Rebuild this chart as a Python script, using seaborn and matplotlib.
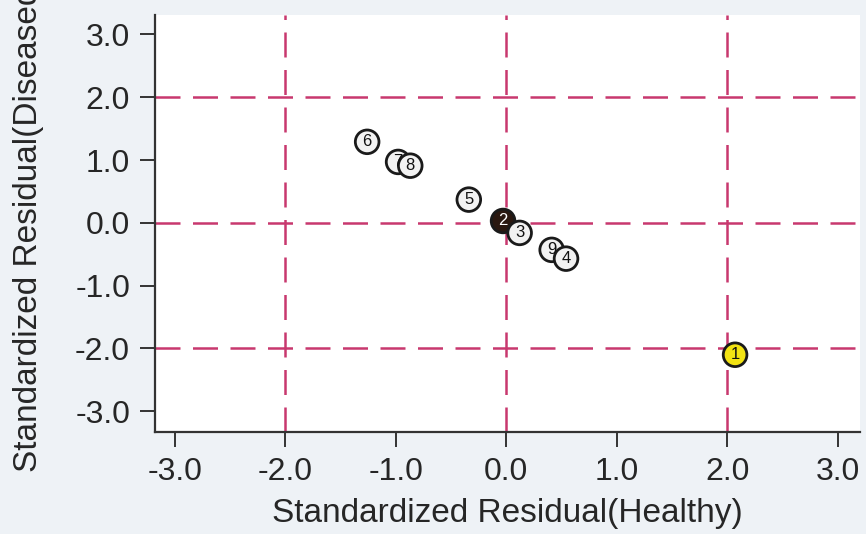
import matplotlib
matplotlib.use("Agg")
import matplotlib.pyplot as plt
import seaborn as sns
import pandas as pd

# data
study = ["6", "7", "8", "5", "2", "3", "9", "4", "1"]
resid_healthy = [-1.26, -0.98, -0.87, -0.34, -0.03, 0.12, 0.41, 0.54, 2.07]
resid_disease = [1.29, 0.97, 0.91, 0.37, 0.03, -0.16, -0.43, -0.57, -2.10]
fill = ["#f2f2f2", "#f2f2f2", "#f2f2f2", "#f2f2f2", "#2a1810", "#f2f2f2", "#f2f2f2", "#f2f2f2", "#f2e313"]
ticks = [-3.0, -2.0, -1.0, 0.0, 1.0, 2.0, 3.0]
ref_lines = [-2.0, 0.0, 2.0]

df = pd.DataFrame({"study": study, "x": resid_healthy, "y": resid_disease, "fill": fill})

sns.set_theme(style="white")
plt.rcParams["font.family"] = ["Liberation Sans", "DejaVu Sans"]

fig = plt.figure(figsize=(8.66, 5.34), dpi=100, facecolor="#eef2f6")
ax = fig.add_axes([0.179, 0.191, 0.814, 0.781])
ax.set_facecolor("white")

ref_color = "#c8386e"
for v in ref_lines:
    ax.axvline(v, color=ref_color, lw=1.8, dashes=(10, 5), zorder=1)
    ax.axhline(v, color=ref_color, lw=1.8, dashes=(10, 5), zorder=1)

sns.scatterplot(data=df, x="x", y="y", ax=ax, s=290, c=df["fill"].tolist(),
                edgecolor="#1a1a1a", linewidth=2.0, zorder=3, legend=False)

for s, xv, yv, fc in zip(study, resid_healthy, resid_disease, fill):
    col = "white" if fc == "#2a1810" else "#111111"
    ax.text(xv, yv, s, ha="center", va="center", fontsize=12, color=col, zorder=4)

ax.set_xlim(-3.18, 3.2)
ax.set_ylim(-3.33, 3.31)
ax.set_xticks(ticks)
ax.set_yticks(ticks)
ax.set_xticklabels([f"{t:.1f}" for t in ticks])
ax.set_yticklabels([f"{t:.1f}" for t in ticks])
ax.tick_params(axis="both", labelsize=23, length=11, width=1.4, color="#333333",
               direction="out", bottom=True, left=True)
ax.tick_params(axis="y", pad=7)
ax.tick_params(axis="x", pad=7)
for side in ["top", "right"]:
    ax.spines[side].set_visible(False)
for side in ["left", "bottom"]:
    ax.spines[side].set_color("#333333")
    ax.spines[side].set_linewidth(1.6)

ax.set_xlabel("Standardized Residual(Healthy)", fontsize=24, labelpad=8)
ax.set_ylabel("Standardized Residual(Diseased)", fontsize=24, labelpad=22)

fig.savefig("out.png", dpi=100, facecolor=fig.get_facecolor())
